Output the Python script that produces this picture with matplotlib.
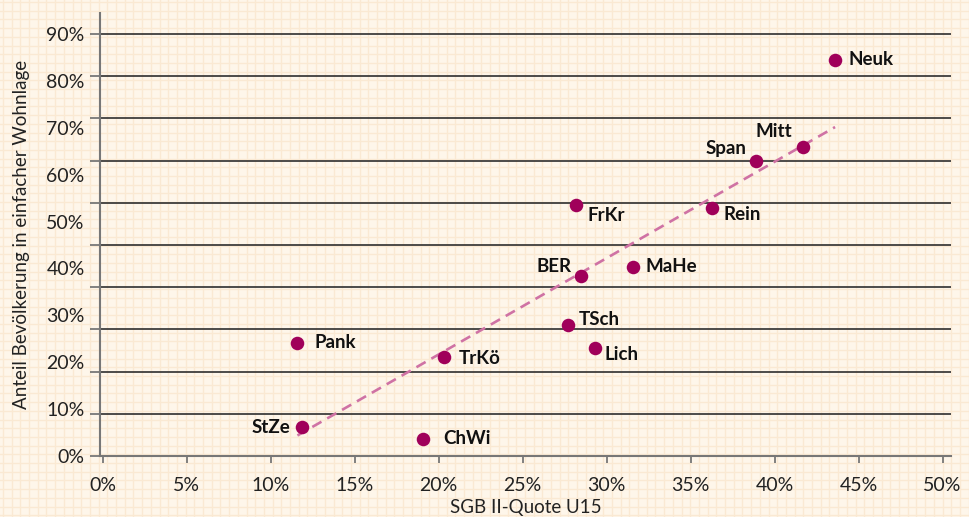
import numpy as np
import matplotlib
matplotlib.use("Agg")
import matplotlib.pyplot as plt
from matplotlib.ticker import FuncFormatter

# Bezirke: SGB II-Quote U15 (%) gegen Anteil Bevölkerung in einfacher Wohnlage (%)
bezirke = ["Neuk", "Mitt", "Span", "Rein", "FrKr", "MaHe", "BER",
           "TSch", "Lich", "TrKö", "Pank", "StZe", "ChWi"]
sgb_quote = [43.6, 41.7, 38.9, 36.3, 28.2, 31.6, 28.5,
             27.7, 29.3, 20.3, 11.6, 11.9, 19.1]
einfache_wohnlage = [84.5, 66.0, 63.0, 52.8, 53.6, 40.4, 38.3,
                     28.0, 23.1, 21.2, 24.2, 6.1, 3.7]

x_ticks = [0, 5, 10, 15, 20, 25, 30, 35, 40, 45, 50]
y_ticks = [0, 10, 20, 30, 40, 50, 60, 70, 80, 90]

# Beschriftungsversatz in Punkten (dx, dy, ha)
label_offsets = {
    "Neuk": (10, 0, "left"), "Mitt": (-8, 11, "right"), "Span": (-7, 9, "right"),
    "Rein": (8, -4, "left"), "FrKr": (8, -8, "left"), "MaHe": (9, 0, "left"),
    "BER": (-7, 7, "right"), "TSch": (8, 4, "left"), "Lich": (7, -5, "left"),
    "TrKö": (11, -1, "left"), "Pank": (12, 0, "left"), "StZe": (-9, 0, "right"),
    "ChWi": (14, 0, "left"),
}

plt.rcParams['font.family'] = ['Lato', 'DejaVu Sans']

bg = "#fef6ea"
paper = "#fae9d3"
punkt = "#a0005a"
trend = "#cf72a4"

fig = plt.figure(figsize=(9.7, 5.17), dpi=100, facecolor=bg)

# Karopapier im Hintergrund
bg_ax = fig.add_axes([0, 0, 1, 1], zorder=-10)
bg_ax.set_xlim(0, 970)
bg_ax.set_ylim(517, 0)
bg_ax.set_facecolor(bg)
step = 8.7
for gx in np.arange(3.0, 970, step):
    bg_ax.axvline(gx, color=paper, lw=1.0)
for gy in np.arange(2.0, 517, step):
    bg_ax.axhline(gy, color=paper, lw=1.0)
bg_ax.axis("off")

ax = fig.add_axes([100 / 970, 1 - 456 / 517, 851 / 970, 443 / 517])
ax.set_facecolor("none")
ax.set_xlim(-0.15, 50.5)
ax.set_ylim(0, 94.5)

# waagerechte Linien (zehn Abschnitte über 0-90)
line_pos = np.linspace(0, 90, 11)
for yl in line_pos[1:]:
    ax.axhline(yl, color="#2e2e2e", lw=1.2, zorder=1)

for side in ["top", "right"]:
    ax.spines[side].set_visible(False)
for side in ["left", "bottom"]:
    ax.spines[side].set_color("#777777")
    ax.spines[side].set_linewidth(1.5)

ax.set_xticks(x_ticks)
ax.xaxis.set_major_formatter(FuncFormatter(lambda v, p: f"{v:.0f}%"))
ax.tick_params(axis="x", length=5, width=1.3, color="#777777",
               labelsize=14, labelcolor="#222222", pad=10)

# Striche an den Linien, Beschriftung gleichmäßig 0-90 %
ax.yaxis.remove_overlapping_locs = False
ax.set_yticks(line_pos)
ax.set_yticklabels([])
ax.tick_params(axis="y", which="major", length=7, width=1.3, color="#777777")
ax.set_yticks(y_ticks, minor=True)
ax.yaxis.set_minor_formatter(FuncFormatter(lambda v, p: f"{v:.0f}%"))
ax.tick_params(axis="y", which="minor", length=0, labelsize=14,
               labelcolor="#222222", pad=11)

# Trendlinie (lineare Regression)
coef = np.polyfit(sgb_quote, einfache_wohnlage, 1)
xs = np.array([min(sgb_quote), max(sgb_quote)])
ax.plot(xs, np.polyval(coef, xs), color=trend, lw=1.9, ls=(0, (4, 2.5)), zorder=2)

ax.scatter(sgb_quote, einfache_wohnlage, s=95, color=punkt, zorder=3, linewidths=0)

for name, xv, yv in zip(bezirke, sgb_quote, einfache_wohnlage):
    dx, dy, ha = label_offsets[name]
    ax.annotate(name, (xv, yv), xytext=(dx, dy), textcoords="offset points",
                ha=ha, va="center", fontsize=13.5, fontweight="bold",
                color="#111111", zorder=4)

ax.set_xlabel("SGB II-Quote U15", fontsize=13.5, color="#222222", labelpad=4)
ax.set_ylabel("Anteil Bevölkerung in einfacher Wohnlage", fontsize=13.5,
              color="#222222", labelpad=12)

fig.savefig("out.png", dpi=100, facecolor=bg)
